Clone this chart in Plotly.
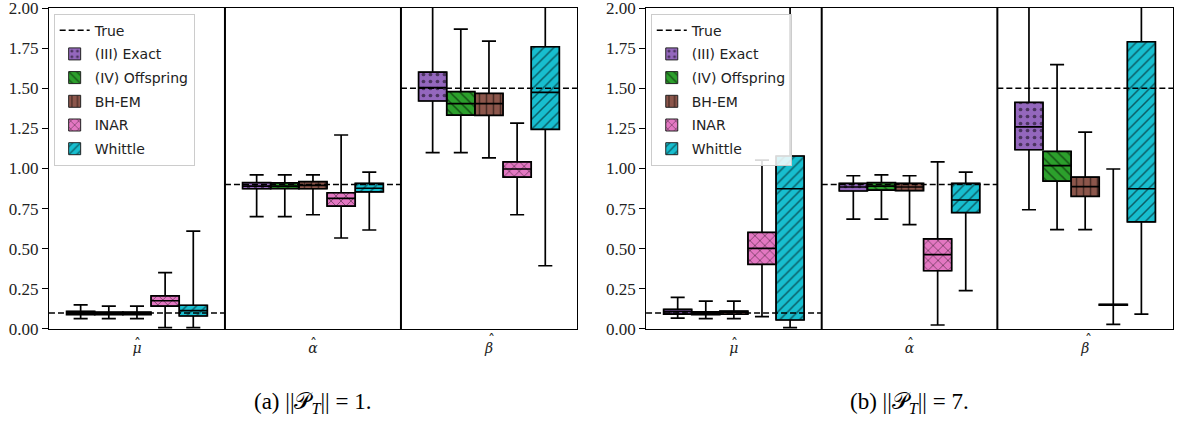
import plotly.graph_objects as go

# Estimators compared and their styling
METHODS = ["(III) Exact", "(IV) Offspring", "BH-EM", "INAR", "Whittle"]
COLORS = ["#9467bd", "#2ca02c", "#8c564b", "#e377c2", "#17becf"]
PATTERNS = [".", "\\", "|", "x", "/"]

# Estimated parameters (x-axis groups, each drawn with a hat) and their true values
PARAMS = ["μ", "α", "β"]
TRUE_VALUES = [0.1, 0.9, 1.5]

# Panel (a): box statistics, one row per method, columns = (mu, alpha, beta)
A_LOWER = [[0.064, 0.700, 1.099], [0.064, 0.700, 1.099], [0.064, 0.712, 1.067],
           [0.008, 0.567, 0.712], [0.008, 0.617, 0.394]]
A_Q1 = [[0.090, 0.874, 1.421], [0.090, 0.875, 1.333], [0.090, 0.874, 1.331],
        [0.143, 0.766, 0.947], [0.081, 0.854, 1.244]]
A_MEDIAN = [[0.100, 0.890, 1.504], [0.100, 0.890, 1.404], [0.098, 0.895, 1.404],
            [0.176, 0.814, 0.997], [0.115, 0.877, 1.475]]
A_Q3 = [[0.110, 0.912, 1.601], [0.105, 0.910, 1.479], [0.105, 0.918, 1.468],
        [0.207, 0.849, 1.042], [0.148, 0.908, 1.759]]
A_UPPER = [[0.150, 0.961, 2.300], [0.143, 0.961, 1.869], [0.143, 0.961, 1.794],
           [0.351, 1.209, 1.283], [0.610, 0.978, 2.400]]

# Panel (b)
B_LOWER = [[0.068, 0.685, 0.743], [0.064, 0.685, 0.619], [0.064, 0.650, 0.619],
           [0.077, 0.025, 0.029], [0.008, 0.239, 0.093]]
B_Q1 = [[0.093, 0.860, 1.117], [0.090, 0.866, 0.922], [0.092, 0.862, 0.826],
        [0.403, 0.363, 0.148], [0.056, 0.725, 0.667]]
B_MEDIAN = [[0.110, 0.885, 1.259], [0.100, 0.890, 1.018], [0.105, 0.885, 0.887],
            [0.503, 0.463, 0.151], [0.874, 0.804, 0.874]]
B_Q3 = [[0.123, 0.908, 1.412], [0.107, 0.912, 1.107], [0.112, 0.908, 0.947],
        [0.602, 0.561, 0.154], [1.078, 0.908, 1.790]]
B_UPPER = [[0.197, 0.955, 2.300], [0.174, 0.961, 1.647], [0.174, 0.955, 1.227],
           [1.053, 1.042, 0.997], [2.400, 0.978, 2.400]]

CAPTIONS = ["(a) ||𝒫<sub><i>T</i></sub>|| = 1.", "(b) ||𝒫<sub><i>T</i></sub>|| = 7."]
Y_TICKS = [0, 0.25, 0.5, 0.75, 1.0, 1.25, 1.5, 1.75, 2.0]

BOX_W = 0.16
SERIF = "Liberation Serif"
SANS = "DejaVu Sans"

panels = [
    dict(lower=A_LOWER, q1=A_Q1, med=A_MEDIAN, q3=A_Q3, upper=A_UPPER,
         xaxis="x", yaxis="y", legend="legend", domain=[0.0416, 0.4902]),
    dict(lower=B_LOWER, q1=B_Q1, med=B_MEDIAN, q3=B_Q3, upper=B_UPPER,
         xaxis="x2", yaxis="y2", legend="legend2", domain=[0.5489, 0.9966]),
]

fig = go.Figure()
n_groups = len(PARAMS)

for p in panels:
    # dashed reference line at each parameter's true value, spanning its group
    tx, ty = [], []
    for g, v in enumerate(TRUE_VALUES):
        tx += [g - 0.5, g + 0.5, None]
        ty += [v, v, None]
    fig.add_trace(go.Scatter(
        x=tx, y=ty, mode="lines", name="True",
        line=dict(color="black", width=1.5, dash="6px,3px"),
        xaxis=p["xaxis"], yaxis=p["yaxis"], legend=p["legend"],
        legendgroup="true", hoverinfo="skip"))

    for i, m in enumerate(METHODS):
        pos = [g + (i - 2) * BOX_W for g in range(n_groups)]
        q1, q3 = p["q1"][i], p["q3"][i]
        # patterned fill of the interquartile box
        fig.add_trace(go.Bar(
            x=pos, base=q1, y=[b - a for a, b in zip(q1, q3)], width=BOX_W,
            name=m, legendgroup=m, legend=p["legend"],
            marker=dict(color=COLORS[i],
                        line=dict(color="#222222", width=1),
                        pattern=dict(shape=PATTERNS[i], fgcolor="black",
                                     bgcolor=COLORS[i], fillmode="overlay",
                                     size=7, solidity=0.22)),
            xaxis=p["xaxis"], yaxis=p["yaxis"], hoverinfo="skip"))
        # whiskers, caps and median
        fig.add_trace(go.Box(
            x=pos, q1=q1, median=p["med"][i], q3=q3,
            lowerfence=p["lower"][i], upperfence=p["upper"][i],
            width=BOX_W, whiskerwidth=0.5,
            fillcolor="rgba(0,0,0,0)", line=dict(color="black", width=1.7),
            showlegend=False, legendgroup=m,
            xaxis=p["xaxis"], yaxis=p["yaxis"], hoverinfo="skip"))

axis_common = dict(showline=True, mirror=True, linecolor="black", linewidth=1,
                   showgrid=False, zeroline=False, automargin=False)

layout = dict(
    width=1177, height=425, margin=dict(l=0, r=0, t=0, b=0, autoexpand=False),
    paper_bgcolor="white", plot_bgcolor="white",
    barmode="overlay", boxmode="overlay",
    shapes=[], annotations=[],
)

for k, p in enumerate(panels):
    sfx = "" if k == 0 else "2"
    layout["xaxis" + sfx] = dict(
        axis_common, domain=p["domain"], range=[-0.5, n_groups - 0.5],
        tickvals=list(range(n_groups)), ticktext=PARAMS, ticks="",
        ticklabelstandoff=6,
        tickfont=dict(family="DejaVu Serif", size=14, color="#222222",
                      style="italic"),
        anchor="y" + sfx)
    layout["yaxis" + sfx] = dict(
        axis_common, domain=[0.2259, 0.9812], range=[0, 2.0005],
        tickvals=Y_TICKS, ticktext=[f"{v:.2f}" for v in Y_TICKS],
        ticks="outside", ticklen=6, tickwidth=1, tickcolor="black",
        ticklabeloverflow="allow",
        tickfont=dict(family=SERIF, size=17, color="#222222"),
        anchor="x" + sfx)
    # hats over the parameter symbols
    for g, sym in enumerate(PARAMS):
        tall = sym == "β"
        layout["annotations"].append(dict(
            text="ˆ", xref=p["xaxis"], yref="paper", x=g,
            y=0.199 if tall else 0.191, xshift=3 if tall else 1,
            xanchor="center", yanchor="middle", showarrow=False,
            font=dict(family="DejaVu Serif", size=14, color="#222222")))
    for g in range(n_groups - 1):
        layout["shapes"].append(dict(
            type="line", xref=p["xaxis"], yref=p["yaxis"] + " domain",
            x0=g + 0.5, x1=g + 0.5, y0=0, y1=1,
            line=dict(color="black", width=2)))
    layout["annotations"].append(dict(
        text=CAPTIONS[k], xref="paper", yref="paper",
        x=(p["domain"][0] + p["domain"][1]) / 2, y=0.052,
        xanchor="center", yanchor="middle", showarrow=False,
        font=dict(family=SERIF, size=23, color="black")))
    legend_key = "legend" if k == 0 else "legend2"
    layout[legend_key] = dict(
        x=p["domain"][0] + 0.004, y=0.968, xanchor="left", yanchor="top",
        bgcolor="rgba(255,255,255,0.85)", bordercolor="#cccccc",
        borderwidth=1, traceorder="grouped", tracegroupgap=2.5,
        itemwidth=30,
        font=dict(family=SANS, size=14, color="#222222"))

fig.update_layout(**layout)
fig.write_html("out.html")
